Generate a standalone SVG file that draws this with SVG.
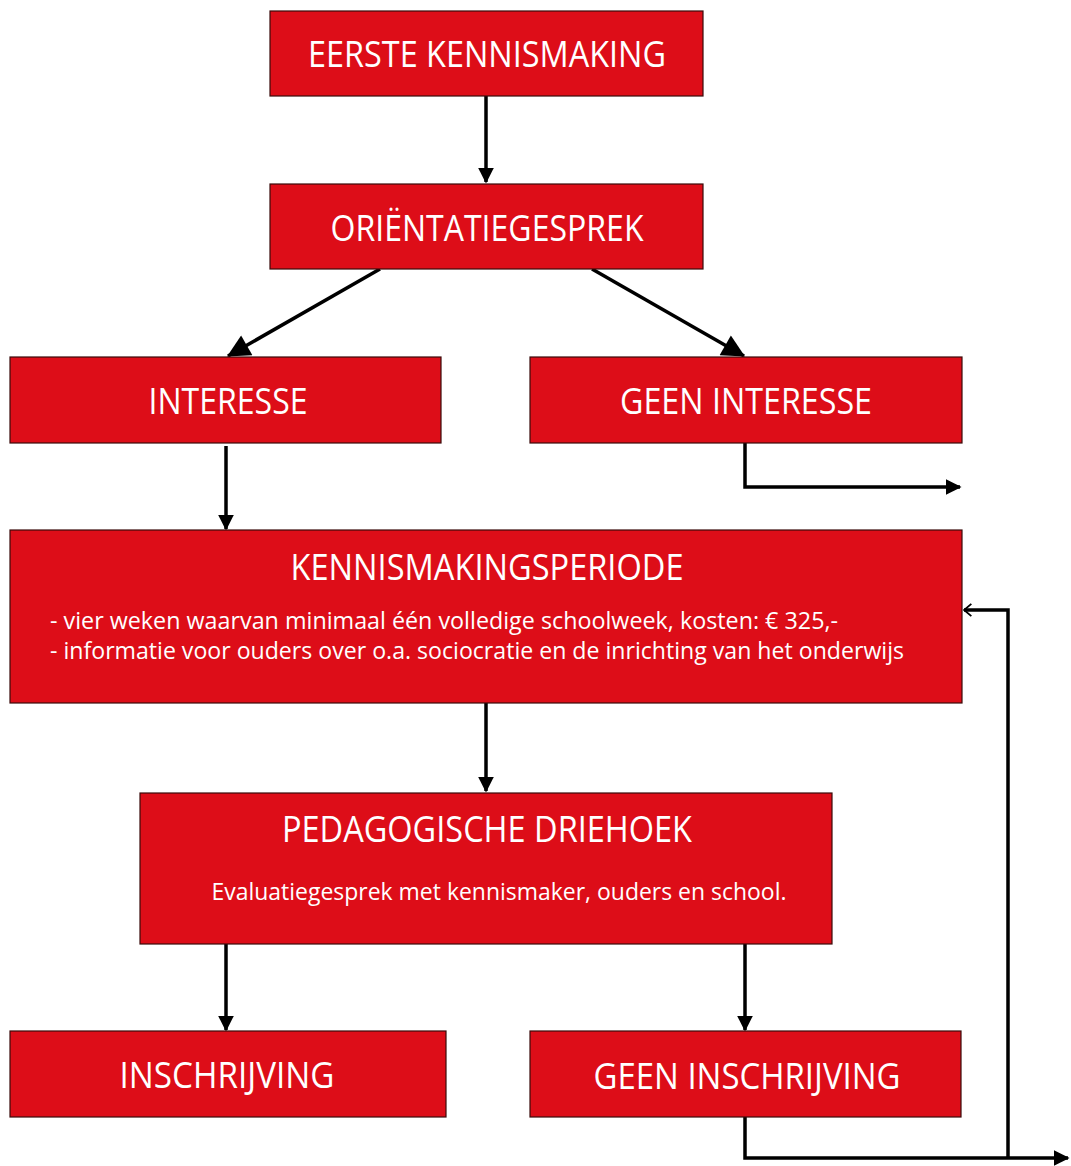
<svg xmlns="http://www.w3.org/2000/svg" width="1071" height="1166" viewBox="0 0 1071 1166">
<defs>
<style>
.box{fill:#dd0d18;stroke:#3a0a0a;stroke-width:1.2}
.t{fill:#fff;font-family:"Open Sans","Liberation Sans",sans-serif;text-anchor:middle}
.h{font-size:36px}
.s{font-size:24px}
.c{fill:none;stroke:#000;stroke-width:3.5}
</style>
<marker id="a" viewBox="0 0 10 10" refX="9" refY="5" markerWidth="4.5" markerHeight="4.5" orient="auto" markerUnits="strokeWidth"><path d="M0,0 L10,5 L0,10 z" fill="#000"/></marker>
<marker id="b" viewBox="0 0 10 10" refX="9.5" refY="5" markerWidth="7.5" markerHeight="6.5" orient="auto" markerUnits="strokeWidth"><path d="M0,0 L10,5 L0,10 z" fill="#000"/></marker>
<marker id="o" viewBox="0 0 10 10" refX="9" refY="5" markerWidth="3.5" markerHeight="4" orient="auto" markerUnits="strokeWidth"><path d="M3,0 L9,5 L3,10" fill="none" stroke="#000" stroke-width="1.5"/></marker>
</defs>
<rect width="1071" height="1166" fill="#fff"/>
<g id="connectors">
<path class="c" d="M486,96 V182" marker-end="url(#a)"/>
<path class="c" d="M380,269 L228,356" marker-end="url(#b)"/>
<path class="c" d="M592,269 L744,356" marker-end="url(#b)"/>
<path class="c" d="M745,443 V487 H960" marker-end="url(#a)"/>
<path class="c" d="M226,446 V529" marker-end="url(#a)"/>
<path class="c" d="M486,703 V791" marker-end="url(#a)"/>
<path class="c" d="M226,944 V1030" marker-end="url(#a)"/>
<path class="c" d="M745,944 V1030" marker-end="url(#a)"/>
<path class="c" d="M745,1117 V1158 H1068" marker-end="url(#a)"/>
<path class="c" d="M1008,1158 V610 H964" marker-end="url(#o)"/>
</g>
<g id="eerste-kennismaking"><rect class="box" x="270" y="11" width="433" height="85"/><text class="t h" x="487" y="67" textLength="358" lengthAdjust="spacingAndGlyphs">EERSTE KENNISMAKING</text></g>
<g id="orientatiegesprek"><rect class="box" x="270" y="184" width="433" height="85"/><text class="t h" x="487" y="241" textLength="313" lengthAdjust="spacingAndGlyphs">ORIËNTATIEGESPREK</text></g>
<g id="interesse"><rect class="box" x="10" y="357" width="431" height="86"/><text class="t h" x="228" y="414" textLength="159" lengthAdjust="spacingAndGlyphs">INTERESSE</text></g>
<g id="geen-interesse"><rect class="box" x="530" y="357" width="432" height="86"/><text class="t h" x="746" y="414" textLength="252" lengthAdjust="spacingAndGlyphs">GEEN INTERESSE</text></g>
<g id="kennismakingsperiode"><rect class="box" x="10" y="530" width="952" height="173"/>
<text class="t h" x="487" y="580" textLength="393" lengthAdjust="spacingAndGlyphs">KENNISMAKINGSPERIODE</text>
<text class="t s" x="50" y="629" style="text-anchor:start" textLength="788" lengthAdjust="spacingAndGlyphs">- vier weken waarvan minimaal één volledige schoolweek, kosten: € 325,-</text>
<text class="t s" x="50" y="659" style="text-anchor:start" textLength="854" lengthAdjust="spacingAndGlyphs">- informatie voor ouders over o.a. sociocratie en de inrichting van het onderwijs</text></g>
<g id="pedagogische-driehoek"><rect class="box" x="140" y="793" width="692" height="151"/>
<text class="t h" x="487" y="842" textLength="410" lengthAdjust="spacingAndGlyphs">PEDAGOGISCHE DRIEHOEK</text>
<text class="t s" x="499" y="900" textLength="575" lengthAdjust="spacingAndGlyphs">Evaluatiegesprek met kennismaker, ouders en school.</text></g>
<g id="inschrijving"><rect class="box" x="10" y="1031" width="436" height="86"/><text class="t h" x="227" y="1088" textLength="215" lengthAdjust="spacingAndGlyphs">INSCHRIJVING</text></g>
<g id="geen-inschrijving"><rect class="box" x="530" y="1031" width="431" height="86"/><text class="t h" x="747" y="1089" textLength="307" lengthAdjust="spacingAndGlyphs">GEEN INSCHRIJVING</text></g>
</svg>
